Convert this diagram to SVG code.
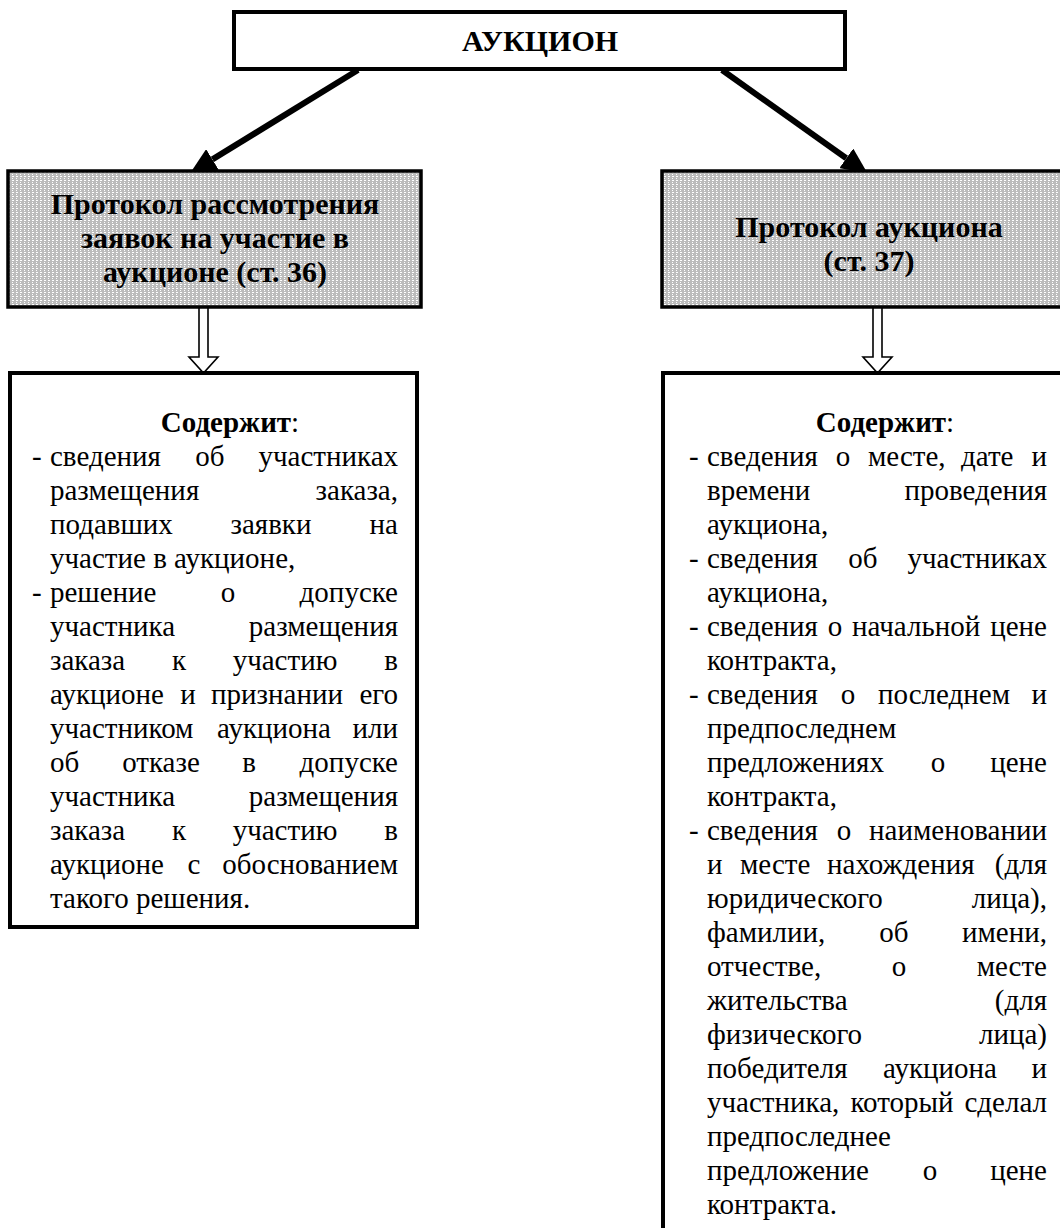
<svg xmlns="http://www.w3.org/2000/svg" width="1060" height="1228" viewBox="0 0 1060 1228">
<style>
text{font-family:"Liberation Serif","Times New Roman",serif;font-size:29px;fill:#000}
.b{font-weight:bold}
.t{font-size:30px}
.m{text-anchor:middle}
.e{text-anchor:end}
.box{fill:#fff;stroke:#000;stroke-width:4}
.gbox{fill:url(#dots);stroke:#000;stroke-width:3.5}
.conn{stroke:#000;stroke-width:6;fill:none}
.hollow{fill:#fff;stroke:#000;stroke-width:1.6}
</style>
<defs>
<pattern id="dots" width="4" height="4" patternUnits="userSpaceOnUse">
<rect width="4" height="4" fill="#bcbcbc"/>
<rect x="0" y="0" width="2" height="1" fill="#fff"/>
<rect x="0" y="2" width="1" height="1" fill="#fff"/>
</pattern>
<marker id="ah" markerUnits="userSpaceOnUse" markerWidth="26" markerHeight="24" refX="0" refY="12" orient="auto">
<path d="M0,0 L26,12 L0,24 z" fill="#000"/>
</marker>
</defs>

<g id="connectors">
<line class="conn" x1="358" y1="70" x2="212.4" y2="159.4" marker-end="url(#ah)"/>
<line class="conn" x1="722" y1="70" x2="846.3" y2="158.3" marker-end="url(#ah)"/>
<path class="hollow" d="M199,307 V357 H189 L203.5,373 L218,357 H208 V307 Z"/>
<path class="hollow" d="M873,307 V357 H863 L877.5,373 L892,357 H882 V307 Z"/>
</g>

<g id="auction">
<rect class="box" x="234" y="12" width="611" height="57"/>
<text class="b t m" x="540" y="51">АУКЦИОН</text>
</g>

<g id="protocol36">
<rect class="gbox" x="8" y="171" width="413" height="136"/>
<text class="b t m" x="215" y="214">Протокол рассмотрения</text>
<text class="b t m" x="215" y="248">заявок на участие в</text>
<text class="b t m" x="215" y="282">аукционе (ст. 36)</text>
</g>

<g id="protocol37">
<rect class="gbox" x="662" y="171" width="420" height="136"/>
<text class="b t m" x="869" y="237">Протокол аукциона</text>
<text class="b t m" x="869" y="271">(ст. 37)</text>
</g>

<g id="contents36">
<rect class="box" x="10" y="373" width="407" height="554"/>
<text class="m" x="230" y="432"><tspan class="b">Содержит</tspan>:</text>
<text x="32" y="466">-</text>
<text x="50" y="466">сведения</text><text class="m" x="210" y="466">об</text><text class="e" x="398" y="466">участниках</text>
<text x="50" y="500">размещения</text><text class="e" x="398" y="500">заказа,</text>
<text x="50" y="534">подавших</text><text class="m" x="271" y="534">заявки</text><text class="e" x="398" y="534">на</text>
<text x="50" y="568">участие в аукционе,</text>
<text x="32" y="602">-</text>
<text x="50" y="602">решение</text><text class="m" x="228" y="602">о</text><text class="e" x="398" y="602">допуске</text>
<text x="50" y="636">участника</text><text class="e" x="398" y="636">размещения</text>
<text x="50" y="670">заказа</text><text class="m" x="179" y="670">к</text><text class="m" x="285" y="670">участию</text><text class="e" x="398" y="670">в</text>
<text x="50" y="704">аукционе</text><text class="m" x="188" y="704">и</text><text class="m" x="277" y="704">признании</text><text class="e" x="398" y="704">его</text>
<text x="50" y="738">участником</text><text class="m" x="274" y="738">аукциона</text><text class="e" x="398" y="738">или</text>
<text x="50" y="772">об</text><text class="m" x="161" y="772">отказе</text><text class="m" x="249" y="772">в</text><text class="e" x="398" y="772">допуске</text>
<text x="50" y="806">участника</text><text class="e" x="398" y="806">размещения</text>
<text x="50" y="840">заказа</text><text class="m" x="179" y="840">к</text><text class="m" x="285" y="840">участию</text><text class="e" x="398" y="840">в</text>
<text x="50" y="874">аукционе</text><text class="m" x="194" y="874">с</text><text class="e" x="398" y="874">обоснованием</text>
<text x="50" y="908">такого решения.</text>
</g>

<g id="contents37">
<rect class="box" x="663" y="373" width="420" height="900"/>
<text class="m" x="885" y="432"><tspan class="b">Содержит</tspan>:</text>
<text x="689" y="466">-</text>
<text x="707" y="466">сведения</text><text class="m" x="843" y="466">о</text><text x="868" y="466">месте,</text><text x="961" y="466">дате</text><text class="e" x="1047" y="466">и</text>
<text x="707" y="500">времени</text><text class="e" x="1047" y="500">проведения</text>
<text x="707" y="534">аукциона,</text>
<text x="689" y="568">-</text>
<text x="707" y="568">сведения</text><text class="m" x="863" y="568">об</text><text class="e" x="1047" y="568">участниках</text>
<text x="707" y="602">аукциона,</text>
<text x="689" y="636">-</text>
<text x="707" y="636">сведения</text><text class="m" x="835" y="636">о</text><text x="852" y="636">начальной</text><text class="e" x="1047" y="636">цене</text>
<text x="707" y="670">контракта,</text>
<text x="689" y="704">-</text>
<text x="707" y="704">сведения</text><text class="m" x="848" y="704">о</text><text x="878" y="704">последнем</text><text class="e" x="1047" y="704">и</text>
<text x="707" y="738">предпоследнем</text>
<text x="707" y="772">предложениях</text><text class="m" x="938" y="772">о</text><text class="e" x="1047" y="772">цене</text>
<text x="707" y="806">контракта,</text>
<text x="689" y="840">-</text>
<text x="707" y="840">сведения</text><text class="m" x="844" y="840">о</text><text class="e" x="1047" y="840">наименовании</text>
<text x="707" y="874">и</text><text x="740" y="874">месте</text><text x="827" y="874">нахождения</text><text class="e" x="1047" y="874">(для</text>
<text x="707" y="908">юридического</text><text class="e" x="1047" y="908">лица),</text>
<text x="707" y="942">фамилии,</text><text class="m" x="894" y="942">об</text><text class="e" x="1047" y="942">имени,</text>
<text x="707" y="976">отчестве,</text><text class="m" x="899" y="976">о</text><text class="e" x="1047" y="976">месте</text>
<text x="707" y="1010">жительства</text><text class="e" x="1047" y="1010">(для</text>
<text x="707" y="1044">физического</text><text class="e" x="1047" y="1044">лица)</text>
<text x="707" y="1078">победителя</text><text class="m" x="940" y="1078">аукциона</text><text class="e" x="1047" y="1078">и</text>
<text x="707" y="1112">участника,</text><text class="m" x="902" y="1112">который</text><text class="e" x="1047" y="1112">сделал</text>
<text x="707" y="1146">предпоследнее</text>
<text x="707" y="1180">предложение</text><text class="m" x="930" y="1180">о</text><text class="e" x="1047" y="1180">цене</text>
<text x="707" y="1214">контракта.</text>
</g>
</svg>
